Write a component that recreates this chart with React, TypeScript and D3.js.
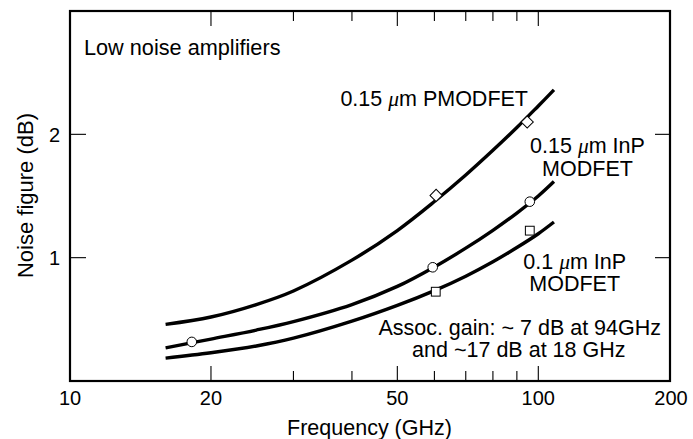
import React from "react";
import * as d3 from "d3";

// ---- data ----
const FREQ = [16, 20, 25, 30, 40, 50, 60, 70, 80, 90, 100, 108];
const NF_PMODFET = [0.459, 0.519, 0.62, 0.73, 0.98, 1.22, 1.455, 1.67, 1.87, 2.055, 2.23, 2.36];
const NF_INP015 = [0.268, 0.34, 0.413, 0.482, 0.62, 0.767, 0.925, 1.077, 1.222, 1.362, 1.5, 1.617];
const NF_INP01 = [0.185, 0.229, 0.284, 0.347, 0.485, 0.613, 0.733, 0.85, 0.967, 1.082, 1.194, 1.289];

const PMODFET_MARK_F = [60.5, 94.7];
const PMODFET_MARK_NF = [1.505, 2.1];
const INP015_MARK_F = [18.2, 59.5, 95.9];
const INP015_MARK_NF = [0.317, 0.922, 1.454];
const INP01_MARK_F = [60.4, 95.9];
const INP01_MARK_NF = [0.724, 1.219];

const X_MAJOR_TICKS = [20, 50, 100];
const X_MINOR_TICKS = [30, 40, 60, 70, 80, 90];
const X_TICK_LABELS = [10, 20, 50, 100, 200];
const Y_TICKS = [1, 2];

const FONT = "'Liberation Sans', Arial, Helvetica, sans-serif";

export default function App() {
  const W = 693;
  const H = 439;
  const left = 70;
  const right = 670;
  const top = 11;
  const bottom = 381;

  const x = d3.scaleLog().domain([10, 200]).range([left, left + 468.3 * Math.log10(20)]);
  const y = d3.scaleLinear().domain([0, 3]).range([bottom, top]);

  const line = d3
    .line<[number, number]>()
    .x((d) => x(d[0]))
    .y((d) => y(d[1]))
    .curve(d3.curveCatmullRom.alpha(0.5));

  const series = [NF_PMODFET, NF_INP015, NF_INP01].map((vals) =>
    line(FREQ.map((f, i) => [f, vals[i]] as [number, number]))
  );

  const mu = (
    <tspan fontFamily="'Liberation Serif', 'Times New Roman', serif" fontStyle="italic">
      μ
    </tspan>
  );

  // keep the last tick label inside the picture, as in the reference
  const labelX = (t: number) => Math.min(x(t), 671);

  return (
    <svg
      width={W}
      height={H}
      style={{ position: "absolute", left: 0, top: 0, background: "#fff" }}
      fontFamily={FONT}
    >
      <rect x={0} y={0} width={W} height={H} fill="#fff" />
      {/* frame */}
      <rect x={left} y={top} width={right - left} height={bottom - top} fill="none" stroke="#000" strokeWidth={2.2} />

      {/* x ticks */}
      {X_MAJOR_TICKS.map((t) => (
        <g key={"M" + t}>
          <line x1={x(t)} x2={x(t)} y1={bottom} y2={bottom - 15} stroke="#000" strokeWidth={1.1} />
          <line x1={x(t)} x2={x(t)} y1={top} y2={top + 15} stroke="#000" strokeWidth={1.1} />
        </g>
      ))}
      {X_MINOR_TICKS.map((t) => (
        <g key={"m" + t}>
          <line x1={x(t)} x2={x(t)} y1={bottom} y2={bottom - 10} stroke="#000" strokeWidth={1.1} />
          <line x1={x(t)} x2={x(t)} y1={top} y2={top + 10} stroke="#000" strokeWidth={1.1} />
        </g>
      ))}
      {X_TICK_LABELS.map((t) => (
        <text key={"xl" + t} x={labelX(t)} y={405} fontSize={20} textAnchor="middle" fill="#000">
          {t}
        </text>
      ))}

      {/* y ticks */}
      {Y_TICKS.map((t) => (
        <g key={"y" + t}>
          <line x1={left} x2={left + 16} y1={y(t)} y2={y(t)} stroke="#000" strokeWidth={1.1} />
          <line x1={right - 15} x2={right} y1={y(t)} y2={y(t)} stroke="#000" strokeWidth={1.1} />
          <text x={60} y={y(t)} dy="0.36em" fontSize={20} textAnchor="end" fill="#000">
            {t}
          </text>
        </g>
      ))}

      {/* axis titles */}
      <text x={369.5} y={435} fontSize={21.5} textAnchor="middle" fill="#000">
        Frequency (GHz)
      </text>
      <text
        transform={`translate(33,195.5) rotate(-90)`}
        fontSize={22}
        textAnchor="middle"
        fill="#000"
      >
        Noise figure (dB)
      </text>

      {/* curves */}
      {series.map((d, i) => (
        <path key={"s" + i} d={d || ""} fill="none" stroke="#000" strokeWidth={3.4} strokeLinecap="butt" />
      ))}

      {/* markers */}
      {PMODFET_MARK_F.map((f, i) => (
        <rect
          key={"d" + i}
          x={-4.3}
          y={-4.3}
          width={8.6}
          height={8.6}
          transform={`translate(${x(f)},${y(PMODFET_MARK_NF[i])}) rotate(45)`}
          fill="#fff"
          stroke="#000"
          strokeWidth={1}
        />
      ))}
      {INP015_MARK_F.map((f, i) => (
        <circle key={"c" + i} cx={x(f)} cy={y(INP015_MARK_NF[i])} r={4.8} fill="#fff" stroke="#000" strokeWidth={1} />
      ))}
      {INP01_MARK_F.map((f, i) => (
        <rect
          key={"q" + i}
          x={x(f) - 4.4}
          y={y(INP01_MARK_NF[i]) - 4.4}
          width={8.8}
          height={8.8}
          fill="#fff"
          stroke="#000"
          strokeWidth={1}
        />
      ))}

      {/* annotations */}
      <text x={84} y={55} fontSize={21.7} fill="#000">
        Low noise amplifiers
      </text>
      <text x={528} y={106} fontSize={21.5} textAnchor="end" fill="#000">
        0.15 {mu}m PMODFET
      </text>
      <text x={587.5} y={152.7} fontSize={21.5} textAnchor="middle" fill="#000">
        0.15 {mu}m InP
      </text>
      <text x={587.5} y={176} fontSize={21.5} textAnchor="middle" fill="#000">
        MODFET
      </text>
      <text x={574.7} y={269.3} fontSize={21.5} textAnchor="middle" fill="#000">
        0.1 {mu}m InP
      </text>
      <text x={574.7} y={291} fontSize={21.5} textAnchor="middle" fill="#000">
        MODFET
      </text>
      <text x={519.7} y={335} fontSize={21.5} textAnchor="middle" fill="#000">
        Assoc. gain: ~ 7 dB at 94GHz
      </text>
      <text x={518.8} y={356.7} fontSize={21.5} textAnchor="middle" fill="#000">
        and ~17 dB at 18 GHz
      </text>
    </svg>
  );
}
